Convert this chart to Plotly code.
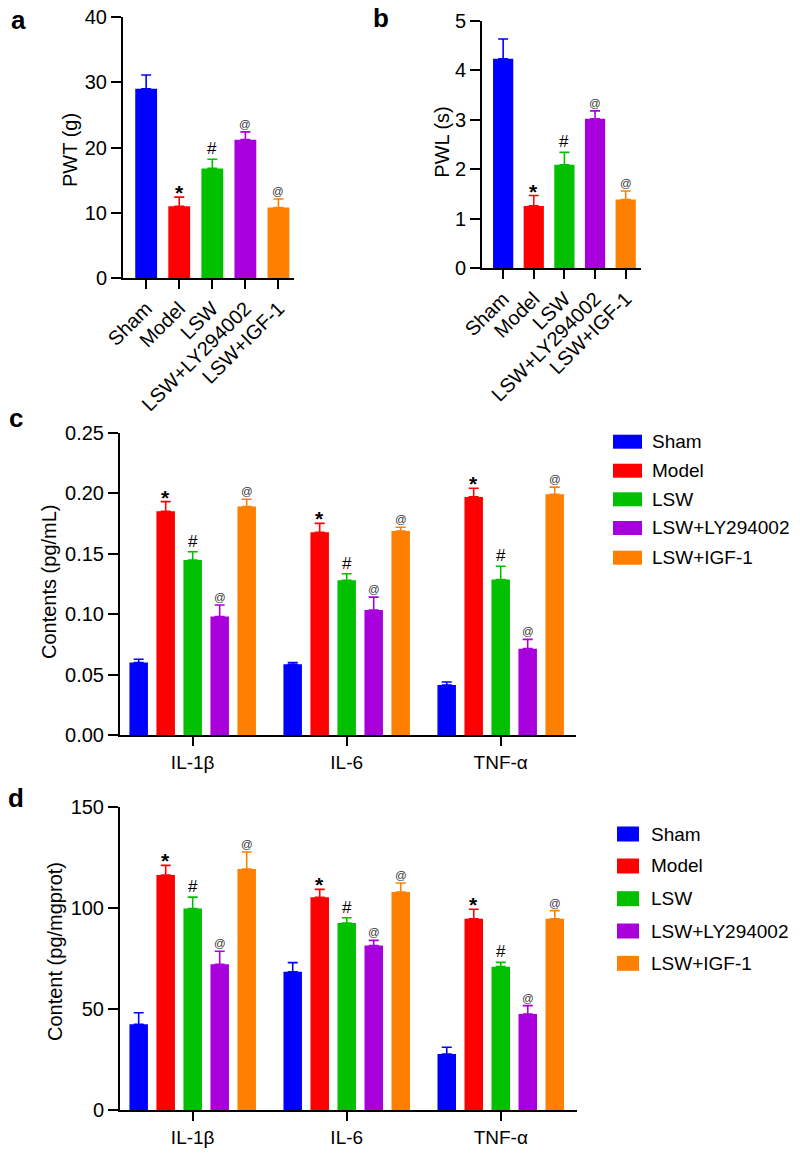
import plotly.graph_objects as go

# ---------------- data ----------------
groups = ["Sham", "Model", "LSW", "LSW+LY294002", "LSW+IGF-1"]
colors = ["#0000FF", "#FF0000", "#00C000", "#A800DC", "#FF8000"]

pwt_mean = [29.0, 11.0, 16.8, 21.2, 10.8]
pwt_err = [2.1, 1.4, 1.4, 1.2, 1.3]
pwt_sig = ["", "*", "#", "@", "@"]

pwl_mean = [4.23, 1.26, 2.09, 3.02, 1.39]
pwl_err = [0.40, 0.21, 0.25, 0.16, 0.17]
pwl_sig = ["", "*", "#", "@", "@"]

cytokines = ["IL-1β", "IL-6", "TNF-α"]

# panel c (pg/mL) : rows = groups, cols = cytokines
c_mean = [
    [0.060, 0.0585, 0.0414],
    [0.185, 0.1677, 0.1969],
    [0.1447, 0.128, 0.1285],
    [0.0979, 0.1034, 0.0714],
    [0.1889, 0.1687, 0.199],
]
c_err = [
    [0.0026, 0.0015, 0.0024],
    [0.008, 0.0073, 0.0071],
    [0.0069, 0.0054, 0.011],
    [0.0096, 0.0106, 0.0077],
    [0.0061, 0.0031, 0.006],
]
c_sig = ["", "*", "#", "@", "@"]

# panel d (pg/mgprot)
d_mean = [
    [42.4, 68.4, 27.7],
    [116.2, 105.2, 94.6],
    [99.6, 92.5, 70.9],
    [72.1, 81.3, 47.5],
    [119.2, 107.8, 94.6],
]
d_err = [
    [5.7, 4.5, 3.3],
    [4.8, 3.9, 4.7],
    [5.7, 2.6, 2.1],
    [6.4, 2.6, 4.1],
    [8.4, 4.5, 4.0],
]
d_sig = ["", "*", "#", "@", "@"]

# ---------------- layout helpers ----------------
# the page body has an 8px margin, so the figure starts 8px in
OFF = 8
W, H = 784, 1145
FONT = "Arial, Liberation Sans, Helvetica, sans-serif"


def xf(px):
    return (px - OFF) / W


def yf(py):
    return 1 - (py - OFF) / H


fig = go.Figure()
annotations = []
shapes = []

sig_style = {
    "*": dict(size=21, yshift=-9, color="black", bold=True),
    "#": dict(size=17, yshift=-1, color="black", bold=False),
    "@": dict(size=11.5, yshift=0, color="#333333", bold=False),
}


def add_sig(xref, yref, x, y, s):
    if not s:
        return
    st = sig_style[s]
    annotations.append(dict(
        x=x, y=y, xref=xref, yref=yref,
        text=("<b>%s</b>" % s) if st["bold"] else s, showarrow=False,
        yanchor="bottom", xanchor="center", yshift=st["yshift"],
        font=dict(size=st["size"], color=st["color"], family=FONT)))


# ---- panels a, b : simple bars ----
bar_w_ab = 0.66
for (means, errs, sigs, xa, ya) in [
    (pwt_mean, pwt_err, pwt_sig, "x", "y"),
    (pwl_mean, pwl_err, pwl_sig, "x2", "y2"),
]:
    for i, g in enumerate(groups):
        fig.add_trace(go.Bar(
            x=[g], y=[means[i]], xaxis=xa, yaxis=ya,
            width=bar_w_ab, offset=-bar_w_ab / 2,
            marker=dict(color=colors[i], line=dict(width=0)),
            error_y=dict(type="data", symmetric=False, array=[errs[i]],
                         arrayminus=[0], color=colors[i], thickness=1.6, width=5),
            showlegend=False))
        add_sig(xa, ya, i, means[i] + errs[i], sigs[i])

# ---- panels c, d : grouped bars ----
slot = 27 / 154
bw = 18.5 / 154
for (mean, err, sigs, xa, ya) in [
    (c_mean, c_err, c_sig, "x3", "y3"),
    (d_mean, d_err, d_sig, "x4", "y4"),
]:
    for i, g in enumerate(groups):
        off = (i - 2) * slot - bw / 2
        fig.add_trace(go.Bar(
            x=cytokines, y=mean[i], name=g, xaxis=xa, yaxis=ya,
            width=bw, offset=off,
            marker=dict(color=colors[i], line=dict(width=0)),
            error_y=dict(type="data", symmetric=False, array=err[i],
                         arrayminus=[0] * len(cytokines), color=colors[i],
                         thickness=1.6, width=5),
            showlegend=False))
        for j in range(len(cytokines)):
            add_sig(xa, ya, j + (i - 2) * slot, mean[i][j] + err[i][j], sigs[i])

# ---- axes ----
axis_common = dict(showline=True, linewidth=2, linecolor="black", ticks="outside",
                   tickwidth=2, tickcolor="black", showgrid=False, zeroline=False,
                   automargin=False, ticklabeloverflow="allow",
                   tickfont=dict(size=20, family=FONT, color="black"))
xcat_font = dict(size=19, family=FONT, color="black")

layout = dict(
    width=W, height=H, margin=dict(l=0, r=0, t=0, b=0, pad=0),
    plot_bgcolor="white", paper_bgcolor="white", barmode="group",
    font=dict(family=FONT, color="black"),
    xaxis=dict(axis_common, domain=[xf(123), xf(294)], anchor="y",
               range=[-0.7, 4.47], tickangle=-45, ticklen=9,
               categoryorder="array", categoryarray=groups),
    yaxis=dict(axis_common, domain=[yf(278), yf(17)], anchor="x",
               range=[0, 40], dtick=10, ticklen=10),
    xaxis2=dict(axis_common, domain=[xf(482), xf(641)], anchor="y2",
                range=[-0.69, 4.5], tickangle=-45, ticklen=9,
                categoryorder="array", categoryarray=groups),
    yaxis2=dict(axis_common, domain=[yf(268.3), yf(20.7)], anchor="x2",
                range=[0, 5], dtick=1, ticklen=10),
    xaxis3=dict(axis_common, domain=[xf(120), xf(576)], anchor="y3",
                range=[-0.472, 2.489], ticklen=9, tickfont=xcat_font),
    yaxis3=dict(axis_common, domain=[yf(735), yf(432.7)], anchor="x3",
                range=[0, 0.25], dtick=0.05, tickformat=".2f", ticklen=10),
    xaxis4=dict(axis_common, domain=[xf(120), xf(577)], anchor="y4",
                range=[-0.472, 2.495], ticklen=9, tickfont=xcat_font),
    yaxis4=dict(axis_common, domain=[yf(1110), yf(806.7)], anchor="x4",
                range=[0, 150], dtick=50, ticklen=10),
)

# ---- axis titles ----
for text, x, y in [("PWT (g)", 70, 150), ("PWL (s)", 441.7, 142),
                   ("Contents (pg/mL)", 49, 582), ("Content (pg/mgprot)", 55, 952)]:
    annotations.append(dict(x=xf(x), y=yf(y), xref="paper", yref="paper", text=text,
                            textangle=-90, showarrow=False, xanchor="center",
                            yanchor="middle",
                            font=dict(size=20, family=FONT, color="black")))

# ---- panel letters ----
for text, x, y in [("a", 18, 20), ("b", 381, 18), ("c", 16, 418), ("d", 16, 798)]:
    annotations.append(dict(x=xf(x), y=yf(y), xref="paper", yref="paper",
                            text="<b>%s</b>" % text, showarrow=False,
                            xanchor="center", yanchor="middle",
                            font=dict(size=26, family=FONT, color="black")))

# ---- legends (c, d) ----
for (sx0, sx1, tx, rows, sh) in [
    (613, 642, 651, [441.7, 470.7, 499.3, 528.0, 557.7], 14),
    (617, 639, 650, [834.0, 866.0, 898.7, 931.0, 963.3], 15),
]:
    for i, g in enumerate(groups):
        cy = rows[i]
        shapes.append(dict(type="rect", xref="paper", yref="paper",
                           x0=xf(sx0), x1=xf(sx1), y0=yf(cy + sh / 2), y1=yf(cy - sh / 2),
                           fillcolor=colors[i], line=dict(width=0)))
        annotations.append(dict(x=xf(tx), y=yf(cy), xref="paper", yref="paper",
                                text=g, showarrow=False, xanchor="left",
                                yanchor="middle", borderpad=0,
                                font=dict(size=19, family=FONT, color="black")))

layout["annotations"] = annotations
layout["shapes"] = shapes
fig.update_layout(**layout)
fig.write_html("out.html")
